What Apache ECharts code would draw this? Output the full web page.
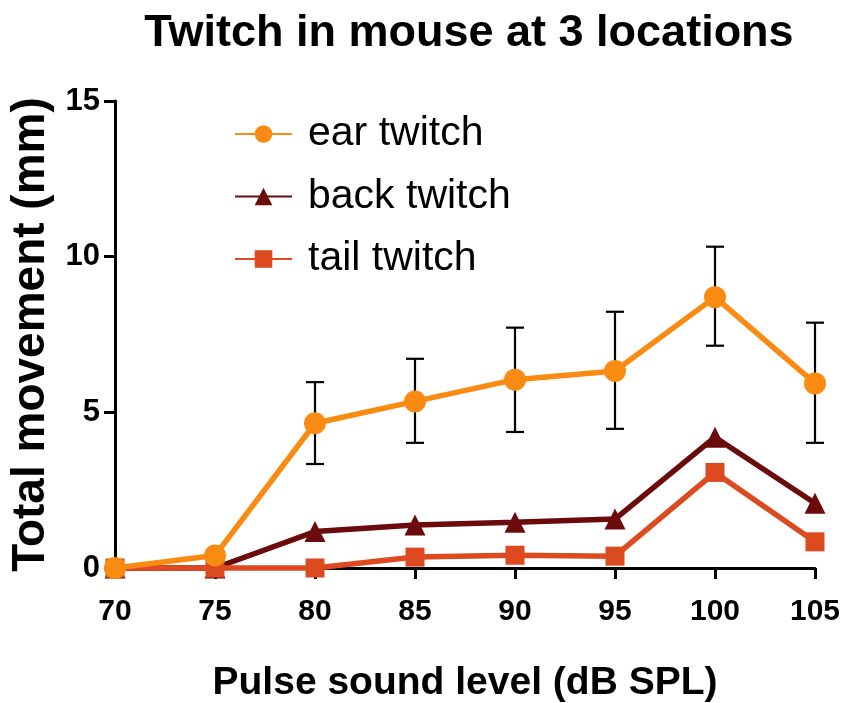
<!DOCTYPE html>
<html>
<head>
<meta charset="utf-8">
<script src="https://cdn.jsdelivr.net/npm/echarts@6/dist/echarts.min.js"></script>
<style>html,body{margin:0;padding:0;background:#fff}#c{width:851px;height:703px}</style>
</head>
<body>
<div id="c"></div>
<script>
var levels = [70, 75, 80, 85, 90, 95, 100, 105];
var earTwitch = [0, 0.4, 4.65, 5.35, 6.05, 6.33, 8.7, 5.93];
var earUpper = [null, null, 5.97, 6.72, 7.72, 8.23, 10.32, 7.88];
var earLower = [null, null, 3.34, 4.02, 4.37, 4.47, 7.14, 4.02];
var backTwitch = [0, 0, 1.17, 1.38, 1.47, 1.57, 4.2, 2.08];
var tailTwitch = [0, 0, 0, 0.35, 0.41, 0.38, 3.07, 0.84];
var yTicks = [0, 5, 10, 15];

var colEar = '#FA8B12', colBack = '#6B0B0B', colTail = '#DD4A20';
function pairs(v){ return levels.map(function(x,i){ return [x, v[i]]; }); }
var errData = [];
levels.forEach(function(x,i){ if (earUpper[i] != null) errData.push([x, earLower[i], earUpper[i]]); });

var chart = echarts.init(document.getElementById('c'));
var font = 'Liberation Sans, Arial, sans-serif';
chart.setOption({
  animation: false,
  title: { text: 'Twitch in mouse at 3 locations', left: 464, textAlign: 'center', top: 6,
    textStyle: { fontFamily: font, fontWeight: 'bold', fontSize: 45, color: '#000' } },
  legend: {
    orient: 'vertical', left: 229, top: 108, itemWidth: 57, itemHeight: 22, itemGap: 20.5,
    data: ['ear twitch', 'back twitch', 'tail twitch'],
    textStyle: { fontFamily: font, fontSize: 41, lineHeight: 42, color: '#000', padding: [0,0,0,11] }
  },
  grid: { left: 115, right: 36, top: 101, bottom: 135, containLabel: false, outerBoundsMode: 'none' },
  xAxis: {
    type: 'value', min: 70, max: 105, interval: 5,
    name: 'Pulse sound level (dB SPL)', nameLocation: 'middle', nameGap: 96,
    nameTextStyle: { fontFamily: font, fontWeight: 'bold', fontSize: 39, color: '#000' },
    axisLine: { lineStyle: { color: '#000', width: 3 } },
    axisTick: { show: true, length: 11, lineStyle: { color: '#000', width: 3 } },
    axisLabel: { fontFamily: font, fontWeight: 'bold', fontSize: 30, color: '#000', margin: 29 },
    splitLine: { show: false }
  },
  yAxis: {
    type: 'value', min: 0, max: 15, interval: 5,
    name: 'Total movement (mm)', nameLocation: 'middle', nameGap: 56,
    nameTextStyle: { fontFamily: font, fontWeight: 'bold', fontSize: 46, color: '#000' },
    axisLine: { show: true, lineStyle: { color: '#000', width: 3 } },
    axisTick: { show: true, length: 11, lineStyle: { color: '#000', width: 3 } },
    axisLabel: { fontFamily: font, fontWeight: 'bold', fontSize: 31, color: '#000', margin: 15,
      formatter: function(v){ return yTicks.indexOf(v) >= 0 ? String(v) : ''; } },
    splitLine: { show: false }
  },
  series: [
    {
      type: 'custom', name: 'err', z: 1, silent: true,
      renderItem: function(params, api){
        var x = api.value(0);
        var lo = api.coord([x, api.value(1)]);
        var hi = api.coord([x, api.value(2)]);
        var hw = 9;
        var st = { stroke: '#000', lineWidth: 2.2 };
        return { type: 'group', children: [
          { type: 'line', shape: { x1: lo[0], y1: lo[1], x2: hi[0], y2: hi[1] }, style: st },
          { type: 'line', shape: { x1: lo[0]-hw, y1: lo[1], x2: lo[0]+hw, y2: lo[1] }, style: st },
          { type: 'line', shape: { x1: hi[0]-hw, y1: hi[1], x2: hi[0]+hw, y2: hi[1] }, style: st }
        ]};
      },
      data: errData
    },
    { name: 'back twitch', type: 'line', z: 2, clip: false, data: pairs(backTwitch),
      symbol: 'triangle', symbolSize: 21, itemStyle: { color: colBack },
      lineStyle: { color: colBack, width: 5.5 } },
    { name: 'tail twitch', type: 'line', z: 3, clip: false, data: pairs(tailTwitch),
      symbol: 'rect', symbolSize: 19, itemStyle: { color: colTail },
      lineStyle: { color: colTail, width: 5.5 } },
    { name: 'ear twitch', type: 'line', z: 4, clip: false, data: pairs(earTwitch),
      symbol: 'circle', symbolSize: 22, itemStyle: { color: colEar },
      lineStyle: { color: colEar, width: 5.5 } }
  ]
});
</script>
</body>
</html>
